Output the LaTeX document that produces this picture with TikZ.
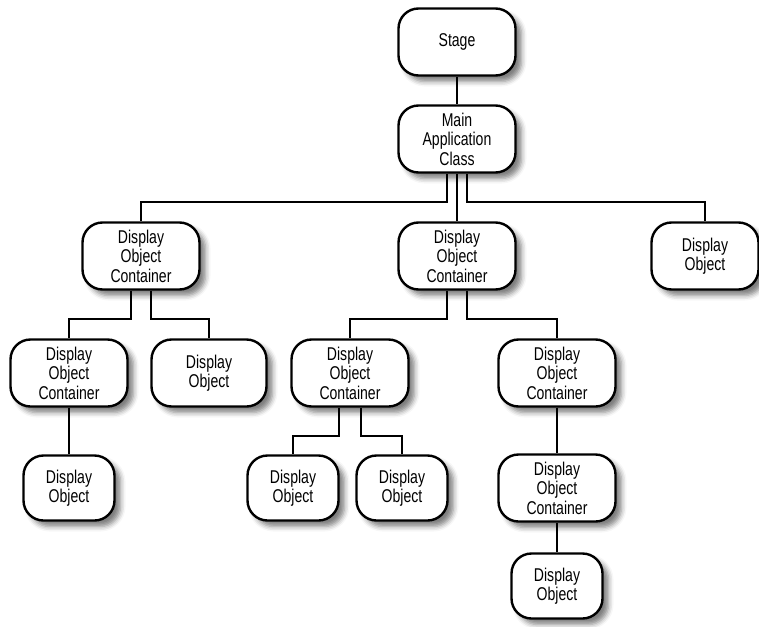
\documentclass[tikz,border=0pt]{standalone}
\usepackage{fontspec}
\setmainfont[FakeStretch=0.76]{Liberation Sans}
\usetikzlibrary{shadows.blur}
\def\boxw{117}
\def\boxh{67}
\def\drop{28}

\begin{document}
\begin{tikzpicture}[x=1pt, y=-1pt,
    box/.style={draw, line width=2.4pt, rounded corners=20pt, fill=white,
      align=center, inner sep=0pt, minimum width=\boxw pt, minimum height=\boxh pt,
      font=\fontsize{18.5}{19.5}\selectfont,
      blur shadow={shadow xshift=6pt, shadow yshift=-6pt,
        shadow blur radius=5pt, shadow opacity=50}},
    leaf/.style={box, minimum width=91pt, minimum height=65pt},
    link/.style={line width=2.2pt}]
  \useasboundingbox (0,0) rectangle (759,626);
  \node[box] (stage) at (457,42) {Stage};
  \node[box] (main) at (457,139) {Main\\Application\\Class};
  \node[box] (contA) at (141,256) {Display\\Object\\Container};
  \node[box] (contB) at (457,256) {Display\\Object\\Container};
  \node[box, minimum width=107pt] (objA) at (705,256) {Display\\Object};
  \node[box] (contC) at (69,373) {Display\\Object\\Container};
  \node[box, minimum width=115pt] (objB) at (209,373) {Display\\Object};
  \node[box] (contD) at (350,373) {Display\\Object\\Container};
  \node[box] (contE) at (557,373) {Display\\Object\\Container};
  \node[leaf] (objC) at (69,488) {Display\\Object};
  \node[leaf] (objD) at (293,488) {Display\\Object};
  \node[leaf] (objE) at (402,488) {Display\\Object};
  \node[box] (contF) at (557,488) {Display\\Object\\Container};
  \node[leaf] (objF) at (557,586) {Display\\Object};
  \draw[link] (stage.south) -- (main.north);
  \draw[link] ([xshift=-10pt]main.south) -- ++(0,\drop) -| (contA.north);
  \draw[link] (main.south) -- (contB.north);
  \draw[link] ([xshift=10pt]main.south) -- ++(0,\drop) -| (objA.north);
  \draw[link] ([xshift=-10pt]contA.south) -- ++(0,\drop) -| (contC.north);
  \draw[link] ([xshift=10pt]contA.south) -- ++(0,\drop) -| (objB.north);
  \draw[link] ([xshift=-10pt]contB.south) -- ++(0,\drop) -| (contD.north);
  \draw[link] ([xshift=10pt]contB.south) -- ++(0,\drop) -| (contE.north);
  \draw[link] (contC.south) -- (objC.north);
  \draw[link] ([xshift=-11pt]contD.south) -- ++(0,\drop) -| (objD.north);
  \draw[link] ([xshift=11pt]contD.south) -- ++(0,\drop) -| (objE.north);
  \draw[link] (contE.south) -- (contF.north);
  \draw[link] (contF.south) -- (objF.north);
\end{tikzpicture}
\end{document}
